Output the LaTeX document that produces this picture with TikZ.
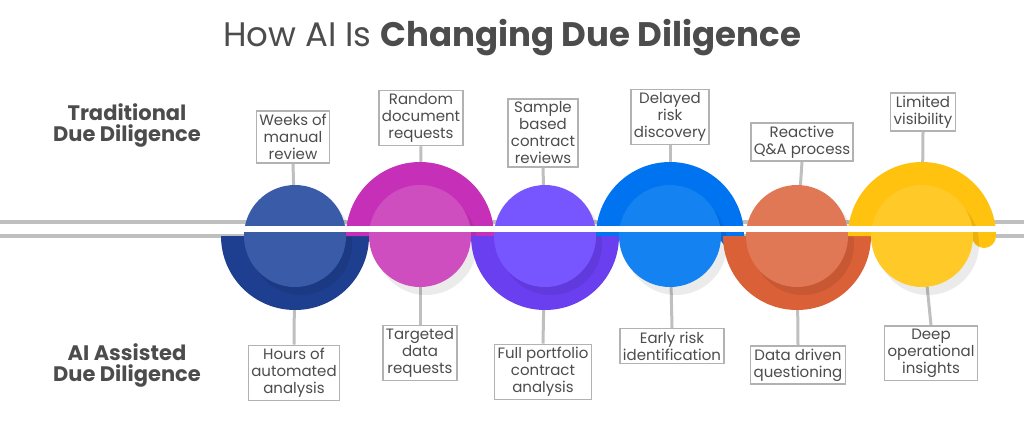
\documentclass[tikz,border=0pt]{standalone}
\usepackage{fontspec}
\setmainfont{Poppins}
\begin{document}
\begin{tikzpicture}[x=1pt,y=-1pt,
 box/.style={draw=black!30,line width=1.5pt,fill=white,align=center,font=\fontsize{15}{17}\selectfont,text=black!70,inner sep=3pt},
 conn/.style={draw=black!25,line width=3pt},
 side/.style={font=\bfseries\fontsize{21}{21}\selectfont,text=black!70,align=center}]
\useasboundingbox (0,0) rectangle (1024,437);
\definecolor{c1o}{HTML}{1E3F8F}\definecolor{c1i}{HTML}{3A5BA8}
\definecolor{c2o}{HTML}{C630B8}\definecolor{c2i}{HTML}{CE4EC0}
\definecolor{c3o}{HTML}{6A3FF0}\definecolor{c3i}{HTML}{7756FF}
\definecolor{c4o}{HTML}{0073F0}\definecolor{c4i}{HTML}{1482F0}
\definecolor{c5o}{HTML}{DA6038}\definecolor{c5i}{HTML}{E07856}
\definecolor{c6o}{HTML}{FFC20E}\definecolor{c6i}{HTML}{FFC928}
\node[font=\fontsize{34}{34}\selectfont,text=black!70] (title) at (512,38) {How AI Is \textbf{Changing Due Diligence}};
\node[side] (trad) at (127,125) {Traditional\\Due Diligence};
\node[side] (ai) at (127,365) {AI Assisted\\Due Diligence};
\draw[black!25,line width=4pt] (0,222) -- (1024,222) (0,236) -- (1024,236);
% top boxes
\node[box] (t1) at (293,137) {Weeks of\\manual\\review};
\node[box] (t2) at (421,118) {Random\\document\\requests};
\node[box] (t3) at (543,133) {Sample\\based\\contract\\reviews};
\node[box] (t4) at (670,117) {Delayed\\risk\\discovery};
\node[box] (t5) at (802,142) {Reactive\\Q\&A process};
\node[box] (t6) at (923,112) {Limited\\visibility};
% bottom boxes
\node[box] (b1) at (294,373) {Hours of\\automated\\analysis};
\node[box] (b2) at (420,353) {Targeted\\data\\requests};
\node[box] (b3) at (543,372) {Full portfolio\\contract\\analysis};
\node[box] (b4) at (672,346) {Early risk\\identification};
\node[box] (b5) at (798,365) {Data driven\\questioning};
\node[box] (b6) at (931,353) {Deep\\operational\\insights};
\foreach \i/\x in {1/295,2/420,3/545,4/670,5/797,6/922}{
  \coordinate (c\i) at (\x,236);
  \draw[conn] (t\i.south) -- (c\i);
  \draw[conn] (c\i) -- (b\i.north);
}
\foreach \i/\x/\s in {1/295/1,2/420/-1,3/545/1,4/670/-1,5/797/1,6/922/-1}{
  \fill[c\i o] (\x-74,236) arc[start angle=180,end angle={180-180*\s},radius=74] -- cycle;
  \fill[c\i o] (\x+62,236) circle (12);
  \fill[black,opacity=0.08] (\x+6,244) circle (51);
  \fill[c\i i] (\x,236) circle (51);
}
\draw[white,line width=6pt] (0,229) -- (1024,229);
\end{tikzpicture}
\end{document}
